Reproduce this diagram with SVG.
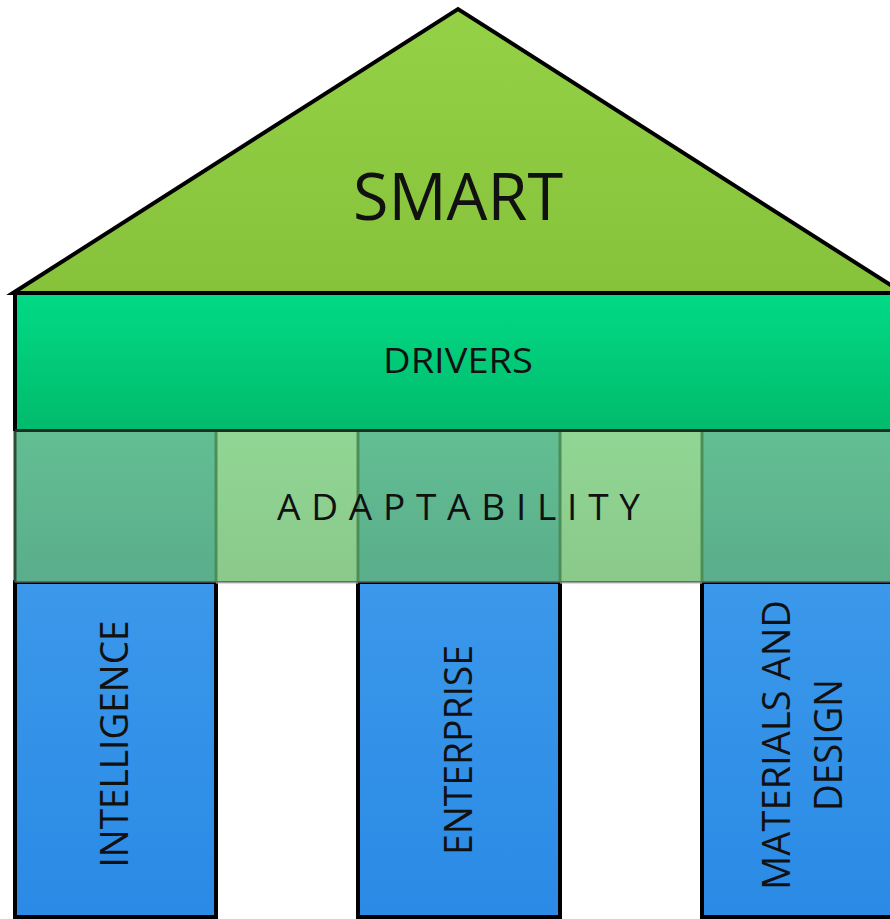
<svg xmlns="http://www.w3.org/2000/svg" width="890" height="919" viewBox="0 0 890 919">
  <defs>
    <linearGradient id="gRoof" x1="0" y1="0" x2="0" y2="1">
      <stop offset="0" stop-color="#94d146"/>
      <stop offset="1" stop-color="#86c33b"/>
    </linearGradient>
    <linearGradient id="gDrivers" x1="0" y1="0" x2="0" y2="1">
      <stop offset="0" stop-color="#02da86"/>
      <stop offset="1" stop-color="#00bb6b"/>
    </linearGradient>
    <linearGradient id="gPillar" x1="0" y1="0" x2="0" y2="1">
      <stop offset="0" stop-color="#3b98ea"/>
      <stop offset="1" stop-color="#2a8ae5"/>
    </linearGradient>
    <linearGradient id="gDark" x1="0" y1="0" x2="0" y2="1">
      <stop offset="0" stop-color="#63be93"/>
      <stop offset="1" stop-color="#5aae8b"/>
    </linearGradient>
    <linearGradient id="gLight" x1="0" y1="0" x2="0" y2="1">
      <stop offset="0" stop-color="#91d694"/>
      <stop offset="1" stop-color="#8ac98a"/>
    </linearGradient>
  </defs>
  <style>
    .lbl { font-family: "Open Sans", "Noto Sans", "Liberation Sans", sans-serif; fill: #111; }
    .pillar { fill: url(#gPillar); stroke: #000; stroke-width: 4; }
    .dark { fill: url(#gDark); }
    .light { fill: url(#gLight); }
    .seam { stroke: #4c8e58; stroke-width: 3; }
  </style>
  <rect width="890" height="919" fill="#fff"/>

  <g id="roof">
    <polygon points="13,293 458,9 903,293" fill="url(#gRoof)" stroke="#000" stroke-width="4" stroke-linejoin="miter"/>
    <text class="lbl" x="458" y="220" font-size="66" text-anchor="middle" textLength="210" lengthAdjust="spacingAndGlyphs">SMART</text>
  </g>

  <g id="pillar-intelligence">
    <rect class="pillar" x="15" y="582" width="201" height="335"/>
    <text class="lbl" font-size="38" text-anchor="middle" transform="translate(128,744) rotate(-90)" textLength="247" lengthAdjust="spacingAndGlyphs">INTELLIGENCE</text>
  </g>
  <g id="pillar-enterprise">
    <rect class="pillar" x="358" y="582" width="202" height="335"/>
    <text class="lbl" font-size="38" text-anchor="middle" transform="translate(472,750) rotate(-90)" textLength="210" lengthAdjust="spacingAndGlyphs">ENTERPRISE</text>
  </g>
  <g id="pillar-materials">
    <rect class="pillar" x="702" y="582" width="201" height="335"/>
    <text class="lbl" font-size="38" text-anchor="middle" transform="translate(790,745) rotate(-90)" textLength="290" lengthAdjust="spacingAndGlyphs">MATERIALS AND</text>
    <text class="lbl" font-size="38" text-anchor="middle" transform="translate(842,745) rotate(-90)" textLength="132" lengthAdjust="spacingAndGlyphs">DESIGN</text>
  </g>

  <g id="adaptability">
    <rect class="dark" x="15" y="431" width="201" height="151"/>
    <rect class="light" x="216" y="431" width="142" height="151"/>
    <rect class="dark" x="358" y="431" width="202" height="151"/>
    <rect class="light" x="560" y="431" width="142" height="151"/>
    <rect class="dark" x="702" y="431" width="200" height="151"/>
    <line class="seam" x1="216" y1="432" x2="216" y2="581"/>
    <line class="seam" x1="358" y1="432" x2="358" y2="581"/>
    <line class="seam" x1="560" y1="432" x2="560" y2="581"/>
    <line class="seam" x1="702" y1="432" x2="702" y2="581"/>
    <line x1="15" y1="431" x2="15" y2="582" stroke="#2e4a38" stroke-width="3"/>
    <line x1="15" y1="582" x2="903" y2="582" stroke="#555" stroke-width="1.5"/>
    <line x1="216" y1="583" x2="358" y2="583" stroke="#bbb" stroke-width="1"/>
    <line x1="560" y1="583" x2="702" y2="583" stroke="#bbb" stroke-width="1"/>
    <text class="lbl" x="458.5" y="520" font-size="37" text-anchor="middle" textLength="363" lengthAdjust="spacing">ADAPTABILITY</text>
  </g>

  <g id="drivers">
    <rect x="15" y="293" width="888" height="137" fill="url(#gDrivers)"/>
    <line x1="15" y1="293" x2="15" y2="431" stroke="#000" stroke-width="4"/>
    <line x1="13" y1="293" x2="903" y2="293" stroke="#000" stroke-width="4"/>
    <line x1="15" y1="430.5" x2="903" y2="430.5" stroke="#1e2e24" stroke-width="3"/>
    <text class="lbl" x="458" y="373" font-size="34" text-anchor="middle" textLength="150" lengthAdjust="spacingAndGlyphs">DRIVERS</text>
  </g>

  <g id="connectors"></g>
</svg>
